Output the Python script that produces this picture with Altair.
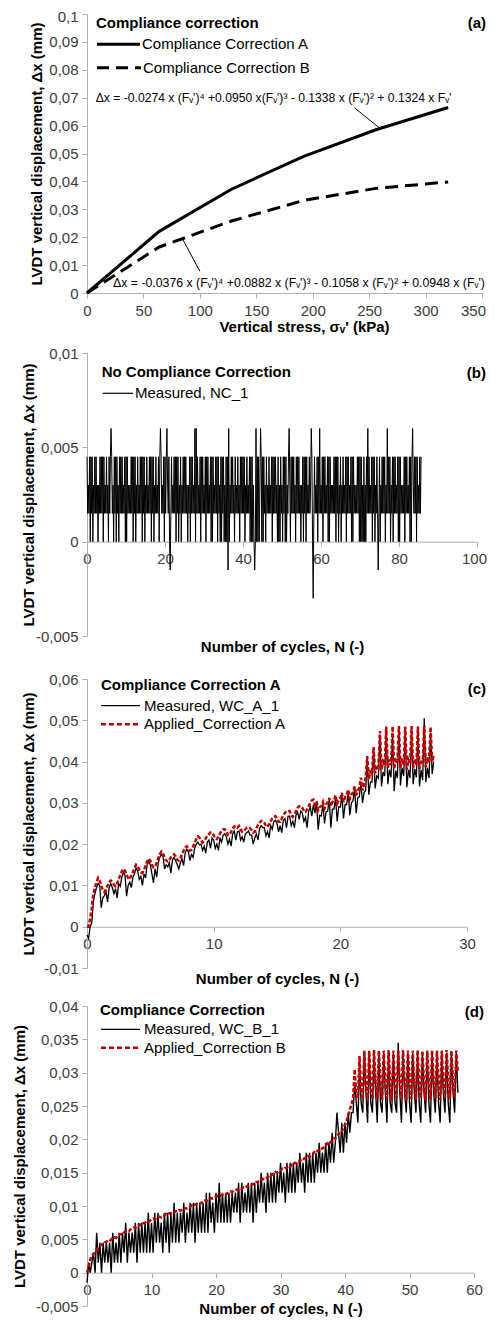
import altair as alt
import pandas as pd

FONT = "Liberation Sans"
AXIS_GREY = "#b0b0b0"
LABEL_GREY = "#3c3c3c"
RED = "#c00000"

Y_TITLE = "LVDT vertical displacement, Δx (mm)"
N_TITLE = "Number of cycles, N (-)"
S_TITLE = "Vertical stress, σᵥ' (kPa)"
LABEL_EXPR = "replace(replace(format(datum.value, '~g'), '.', ','), '\u2212', '-')"

# ---------------- (a) compliance correction curves ----------------
a_stress = [0, 64, 128, 192, 256, 320]
a_corr_A = [0.0, 0.0221, 0.0372, 0.0490, 0.0585, 0.0665]
a_corr_B = [0.0, 0.0165, 0.0258, 0.0332, 0.0375, 0.0398]
a_x_ticks = [0, 50, 100, 150, 200, 250, 300, 350]
a_y_ticks = [0, 0.01, 0.02, 0.03, 0.04, 0.05, 0.06, 0.07, 0.08, 0.09, 0.1]
a_leader_s1 = [237, 85]
a_leader_d1 = [0.0664, 0.0191]
a_leader_s2 = [259, 100]
a_leader_d2 = [0.0592, 0.0078]
eq_A = "Δx = -0.0274 x (Fᵥ')⁴ +0.0950 x(Fᵥ')³ - 0.1338 x (Fᵥ')² + 0.1324 x Fᵥ'"
eq_B = "Δx  = -0.0376 x (Fᵥ')⁴ +0.0882 x (Fᵥ')³ - 0.1058 x (Fᵥ')² + 0.0948 x (Fᵥ')"

# ---------------- (b) no compliance correction ----------------
b_step = 1 / 6          # cycles per sample
b_unit = 0.0015         # LVDT resolution, mm per code
b_codes = [
    3, 1, 2, 1, 3, 0,   3, 1, 3, 0, 2, 1,   3, 1, 3, 1, 2, 0,   2, 1, 3, 1, 3, 1,
    3, 0, 3, 1, 2, 1,   3, 1, 2, 0, 3, 1,   3, 4, 3, 1, 2, 0,   3, 1, 3, 0, 3, 1,
    2, 0, 3, 1, 3, 1,   3, 1, 2, 1, 3, 0,   3, 0, 3, 1, 2, 1,   2, 1, 3, 1, 3, 0,
    3, 1, 3, 0, 2, 1,   3, 1, 2, 1, 3, 1,   3, 0, 3, 1, 3, 0,   2, 1, 3, 1, 2, 1,
    3, 1, 3, 0, 3, 1,   3, 0, 2, 1, 3, 1,   2, 1, 3, 0, 3, 4,   3, 1, 2, 1, 3, 0,
    3, 1, 3, 4, 2, 1,   3, 0, -1, 1, 3, 1,  2, 1, 3, 1, 3, 0,   3, 1, 3, 0, 2, 1,
    3, 0, 2, 1, 3, 1,   3, 1, 3, 1, 2, 0,   2, 1, 3, 0, 3, 1,   3, 1, 2, 1, 4, 0,
    4, 1, 3, 1, 2, 1,   3, 0, 3, 1, 3, 1,   2, 1, 3, 0, 3, 1,   3, 1, 2, 1, 3, 0,
    3, 0, 3, 1, 2, 1,   3, 1, 3, 0, 3, 1,   2, 0, 3, 0, 3, 1,   3, 0, 2, 0, 3, 0,
    3, -1, 4, 0, 2, 1,  3, 1, 3, 1, 2, 0,   3, 1, 2, 1, 3, 1,   2, 0, 3, 1, 3, 1,
    3, 1, 3, 0, 2, 1,   3, 1, 2, 1, 3, 0,   3, 0, 3, 0, 2, 0,   -1, 0, 4, 0, 3, 0,
    3, 0, 2, 4, 3, 0,   3, 0, 3, 1, 2, 0,   3, 1, 2, 1, 3, 1,   2, 1, 3, 0, 3, 1,
    3, 1, 3, 1, 2, 0,   3, 0, 2, 0, 3, 1,   2, 0, 3, 1, 3, 0,   3, 0, 2, 1, 3, 4,
    2, 0, 3, 1, 3, 1,   3, 1, 2, 0, 3, 1,   3, 1, 3, 1, 2, 0,   2, 1, 3, 0, 3, 1,
    3, 0, 3, 1, 2, 1,   3, 1, 2, 4, 3, 0,   -2, 1, 3, 1, 2, 1,  3, 0, 3, 1, 4, 1,
    2, 1, 3, 0, 3, 1,   3, 1, 2, 1, 3, 0,   3, 0, 3, 1, 2, 1,   2, 1, 3, 1, 3, 0,
    3, 1, 3, 0, 2, 1,   3, 0, 2, 1, 3, 1,   2, 1, 3, 0, 3, 1,   3, 1, 2, 1, 3, 0,
    3, 0, 3, 1, 2, 1,   2, 1, 3, 1, 3, 0,   3, 0, 3, 0, 2, 0,   3, 0, 2, 0, 3, 1,
    4, 1, 3, 1, 2, 1,   3, 0, 3, 1, 3, 0,   2, 1, 3, 1, -1, 1,  3, 0, 2, 1, 3, 1,
    3, 1, 3, 0, 2, 1,   4, 1, 3, 1, 3, 0,   2, 1, 3, 0, 3, 1,   3, 1, 2, 1, 3, 0,
    3, 0, 3, 1, 2, 1,   2, 1, 3, 0, 3, 1,   3, 1, 2, 1, 3, 0,   3, 0, 3, 4, 2, 1,
    3, 1, 3, 0, 3, 1,   2, 1, 3, 1, 3,
]
b_x_ticks = [0, 20, 40, 60, 80, 100]
b_y_ticks = [-0.005, 0, 0.005, 0.01]

# ---------------- (c) compliance correction A ----------------
c_step = 0.125
# values in units of 1e-4 mm
c_meas_e4 = [
    -20, -28, 0, 10, 60, 80, 95, 105,
    100, 46, 70, 75, 85, 60, 95, 104,
    95, 80, 92, 70, 105, 98, 120, 132,
    125, 74, 100, 108, 95, 120, 128, 142,
    135, 115, 122, 100, 128, 118, 150, 158,
    150, 128, 106, 140, 120, 155, 168, 175,
    170, 140, 150, 145, 155, 130, 162, 168,
    160, 150, 140, 155, 165, 148, 178, 188,
    182, 160, 175, 168, 190, 200, 205, 198,
    200, 185, 195, 178, 205, 210, 190, 215,
    210, 190, 200, 185, 215, 205, 222, 225,
    218, 200, 212, 195, 225, 232, 210, 230,
    232, 210, 218, 205, 225, 228, 232, 222,
    222, 200, 215, 225, 210, 238, 245, 240,
    240, 220, 230, 215, 245, 236, 255, 258,
    250, 230, 245, 228, 258, 262, 240, 268,
    268, 245, 255, 240, 270, 278, 260, 280,
    276, 255, 265, 240, 280, 290, 268, 296,
    275, 300, 235, 270,  268, 296, 250, 278,  280, 308, 240, 285,
    285, 312, 255, 290,  290, 318, 262, 296,  296, 326, 270, 300,
    305, 335, 275, 312,  315, 350, 300, 325,  330, 405, 320, 350,
    350, 425, 335, 365,  360, 465, 340, 375,  365, 472, 345, 380,
    362, 470, 328, 378,  360, 474, 342, 385,  365, 470, 338, 380,
    360, 472, 345, 382,  362, 470, 340, 380,  355, 505, 350, 385,
    360, 470, 370, 400,
]
c_app_e4 = [
    0, 0, 20, 45, 80, 95, 108, 118,
    112, 100, 88, 84, 92, 100, 108, 112,
    108, 102, 98, 104, 115, 125, 134, 140,
    136, 126, 118, 115, 124, 132, 142, 150,
    146, 138, 132, 130, 138, 148, 158, 165,
    160, 150, 144, 146, 154, 166, 176, 182,
    178, 166, 160, 158, 162, 168, 172, 175,
    170, 162, 160, 166, 176, 184, 192, 195,
    190, 184, 186, 194, 204, 212, 219, 216,
    210, 204, 208, 214, 220, 224, 228, 228,
    222, 214, 212, 218, 226, 232, 236, 236,
    230, 222, 222, 230, 238, 243, 244, 240,
    244, 236, 230, 232, 236, 240, 240, 238,
    234, 228, 230, 238, 246, 252, 256, 256,
    252, 244, 242, 248, 256, 262, 266, 268,
    262, 254, 254, 262, 270, 276, 280, 280,
    280, 270, 266, 272, 280, 288, 292, 292,
    288, 280, 278, 284, 292, 300, 306, 308,
    296, 304, 282, 290,  292, 302, 286, 296,  300, 312, 292, 302,
    306, 318, 298, 308,  312, 324, 302, 314,  318, 332, 310, 320,
    326, 340, 318, 330,  336, 361, 330, 345,  360, 413, 358, 375,
    370, 435, 372, 390,  385, 474, 380, 400,  392, 485, 385, 405,
    392, 485, 382, 402,  395, 486, 385, 408,  392, 485, 380, 405,
    395, 486, 384, 406,  392, 485, 382, 404,  396, 486, 386, 410,
    398, 484, 400, 415,
]
c_x_ticks = [0, 10, 20, 30]
c_y_ticks = [-0.01, 0, 0.01, 0.02, 0.03, 0.04, 0.05, 0.06]

# ---------------- (d) compliance correction B ----------------
d_step = 0.25
d_unit = 0.0015
d_meas_codes = [
    -1, 1, 0, 1,   2, 0, 4, 1,   3, 0, 3, 1,   3, 1, 3, 0,   4, 1, 3, 1,
    4, 1, 4, 2,    5, 1, 4, 2,   4, 2, 5, 1,   5, 2, 5, 2,   5, 2, 6, 2,
    5, 2, 6, 3,    6, 3, 5, 2,   6, 3, 6, 2,   6, 3, 7, 3,   6, 3, 6, 4,
    7, 3, 6, 4,    7, 4, 7, 3,   7, 4, 7, 4,   7, 4, 8, 4,   8, 5, 7, 4,
    8, 5, 9, 5,    8, 5, 8, 5,   8, 5, 8, 6,   8, 6, 9, 5,   9, 6, 8, 6,
    9, 6, 9, 5,    9, 6, 9, 7,   10, 7, 9, 6,  10, 7, 10, 7, 10, 7, 10, 8,
    11, 8, 10, 7,  11, 8, 11, 8, 11, 8, 11, 9, 12, 9, 11, 8, 12, 9, 12, 9,
    12, 9, 12, 10, 13, 10, 12, 10, 13, 10, 13, 11, 14, 11, 13, 16, 14, 12, 15, 12,
    15, 13, 16, 14,
    16,
    16, 19, 17,  15, 21, 17,  16, 22, 18,  15, 22, 17,  16, 22, 18,  15, 22, 17,
    16, 22, 18,  15, 22, 17,  16, 22, 17,  16, 23, 18,  15, 22, 18,  16, 22, 17,
    15, 22, 18,  16, 22, 17,  15, 22, 18,  16, 22, 17,  15, 22, 18,  16, 22, 17,
    15, 22, 18,  16, 22, 17,  15, 22, 18,  16, 22, 18,
]
# values in units of 1e-4 mm
d_app_e4 = [
    0, 8, 20, 25,  28, 30, 33, 37,  40, 42, 43, 45,  46, 48, 47, 50,  52, 53, 52, 55,
    57, 58, 57, 60,  62, 63, 62, 65,  67, 68, 67, 69,  71, 72, 71, 74,  75, 77, 76, 78,
    80, 81, 80, 82,  83, 84, 83, 85,  86, 88, 87, 89,  89, 91, 90, 92,  92, 94, 93, 95,
    96, 97, 96, 98,  99, 101, 100, 102,  103, 104, 103, 105,  106, 108, 107, 109,  110, 112, 111, 113,
    114, 115, 114, 116,  117, 118, 117, 119,  120, 122, 121, 123,  123, 125, 124, 126,  126, 128, 127, 129,
    130, 132, 131, 133,  134, 136, 136, 138,  139, 141, 140, 142,  143, 146, 145, 148,  148, 151, 150, 152,
    153, 156, 155, 157,  157, 160, 159, 162,  162, 165, 164, 167,  167, 170, 169, 172,  172, 175, 174, 177,
    178, 181, 180, 183,  184, 187, 186, 189,  190, 194, 193, 196,  198, 202, 201, 205,  208, 212, 212, 217,
    222, 228, 236, 245,
    252,
    262, 305, 270,  262, 325, 275,  260, 333, 280,  258, 333, 285,  260, 334, 282,  262, 333, 288,
    259, 333, 284,  261, 334, 290,  258, 333, 283,  262, 333, 287,  260, 334, 285,  258, 333, 290,
    261, 333, 284,  259, 334, 288,  262, 333, 283,  258, 333, 289,  260, 334, 285,  261, 333, 290,
    259, 333, 284,  262, 334, 288,  260, 333, 286,  263, 333, 300,
]
d_x_ticks = [0, 10, 20, 30, 40, 50, 60]
d_y_ticks = [-0.005, 0, 0.005, 0.01, 0.015, 0.02, 0.025, 0.03, 0.035, 0.04]

# ---------------- tables ----------------
dfA = pd.DataFrame({"s": a_stress, "dx": a_corr_A})
dfB = pd.DataFrame({"s": a_stress, "dx": a_corr_B})
dfL = pd.DataFrame({"s": a_leader_s1, "dx": a_leader_d1, "s2": a_leader_s2, "dx2": a_leader_d2})
dfb = pd.DataFrame({"N": [i * b_step for i in range(len(b_codes))],
                    "dx": [c * b_unit for c in b_codes]})
dfc = pd.DataFrame({"N": [i * c_step for i in range(len(c_app_e4))],
                    "meas": [v * 1e-4 for v in c_meas_e4],
                    "app": [v * 1e-4 for v in c_app_e4]})
dfd = pd.DataFrame({"N": [i * d_step for i in range(len(d_app_e4))],
                    "meas": [c * d_unit for c in d_meas_codes],
                    "app": [v * 1e-4 for v in d_app_e4]})

COMMON = dict(grid=False, domainColor=AXIS_GREY, tickColor=AXIS_GREY, tickSize=5,
              labelFont=FONT, labelFontSize=15, labelColor=LABEL_GREY, labelExpr=LABEL_EXPR,
              labelFlush=False, labelOverlap=False,
              titleFont=FONT, titleFontSize=15, titleFontWeight="bold", titleColor="black",
              titleBaseline="middle")


def cond_offset(value, shift):
    return {"condition": {"test": f"datum.value == {value}", "value": shift}, "value": 0}


def y_axis(values, title_x, height, top=None, shift=0):
    extra = {}
    if top is not None:
        extra["labelOffset"] = cond_offset(top, shift)
    return alt.Axis(values=values, title=Y_TITLE, labelPadding=4, titleX=title_x,
                    titleY=height / 2, titleAngle=270, **COMMON, **extra)


def x_axis(values, title, offset, title_y, title_x, last=None, shift=0):
    extra = {}
    if last is not None:
        extra["labelOffset"] = cond_offset(last, shift)
    return alt.Axis(values=values, title=title, labelPadding=5, offset=offset,
                    titleY=title_y, titleX=title_x, **COMMON, **extra)


def txt(s, x, y, size=15, bold=False, align="left"):
    return alt.Chart(pd.DataFrame({"t": [s]})).mark_text(
        align=align, baseline="middle", font=FONT, fontSize=size,
        fontWeight="bold" if bold else "normal", color="black"
    ).encode(x=alt.value(x), y=alt.value(y), text="t:N")


def seg(x1, x2, y, color, width, dash=None):
    kw = dict(color=color, strokeWidth=width)
    if dash:
        kw["strokeDash"] = dash
    return alt.Chart(pd.DataFrame({"k": [0]})).mark_rule(**kw).encode(
        x=alt.value(x1), x2=alt.value(x2), y=alt.value(y))


# ---------------- panel (a) ----------------
WA, HA = 395, 279
xa = alt.X("s:Q", scale=alt.Scale(domain=[0, 350], nice=False, zero=False),
           axis=x_axis(a_x_ticks, S_TITLE, 0, 33.5, 217, last=350, shift=-9))
ya = alt.Y("dx:Q", scale=alt.Scale(domain=[0, 0.1], nice=False, zero=False),
           axis=y_axis(a_y_ticks, -51, HA, top=0.1, shift=2))
pa = alt.layer(
    alt.Chart(dfA).mark_line(color="black", strokeWidth=3).encode(x=xa, y=ya),
    alt.Chart(dfB).mark_line(color="black", strokeWidth=3, strokeDash=[13, 7]).encode(x=xa, y=ya),
    alt.Chart(dfL).mark_rule(color="black", strokeWidth=1).encode(x=xa, y=ya, x2="s2:Q", y2="dx2:Q"),
    txt("Compliance correction", 9, 8.5, bold=True),
    seg(10, 53, 30.3, "black", 3),
    txt("Compliance Correction A", 55, 30.3),
    seg(10, 54, 53.7, "black", 3, [12, 7]),
    txt("Compliance Correction B", 56, 53.7),
    txt("(a)", 399, 8.5, bold=True, align="right"),
    txt(eq_A, 8.7, 83.7, size=12.15),
    txt(eq_B, 26, 268.7, size=12.3),
).properties(width=WA, height=HA)

# ---------------- panel (b) ----------------
WB, HB = 390, 283
xb = alt.X("N:Q", scale=alt.Scale(domain=[0, 100], nice=False, zero=False),
           axis=x_axis(b_x_ticks, N_TITLE, -HB / 3, 105, WB / 2, last=100, shift=-3))
yb = alt.Y("dx:Q", scale=alt.Scale(domain=[-0.005, 0.01], nice=False, zero=False),
           axis=y_axis(b_y_ticks, -59, HB))
pb = alt.layer(
    alt.Chart(dfb).mark_line(color="black", strokeWidth=1).encode(x=xb, y=yb),
    txt("No Compliance Correction", 14.7, 18.5, bold=True),
    seg(15.7, 46, 40.3, "black", 1.2),
    txt("Measured, NC_1", 48, 40.3),
    txt("(b)", 399, 19.5, bold=True, align="right"),
).properties(width=WB, height=HB)

# ---------------- panel (c) ----------------
WC, HC = 380, 289
xc = alt.X("N:Q", scale=alt.Scale(domain=[0, 30], nice=False, zero=False),
           axis=x_axis(c_x_ticks, N_TITLE, -HC / 7, 51.7, WC / 2))


def yc(field):
    return alt.Y(field + ":Q", scale=alt.Scale(domain=[-0.01, 0.06], nice=False, zero=False),
                 axis=y_axis(c_y_ticks, -59, HC))


pc = alt.layer(
    alt.Chart(dfc).mark_line(color="black", strokeWidth=1.3).encode(x=xc, y=yc("meas")),
    alt.Chart(dfc).mark_line(color=RED, strokeWidth=2.5, strokeDash=[4, 2]).encode(x=xc, y=yc("app")),
    txt("Compliance Correction A", 14, 6, bold=True),
    seg(14, 53, 26.7, "black", 1.3),
    txt("Measured, WC_A_1", 57, 26.7),
    seg(14, 53, 45.3, RED, 2.5, [5, 3]),
    txt("Applied_Correction A", 57, 45.3),
    txt("(c)", 399, 10.3, bold=True, align="right"),
).properties(width=WC, height=HC)

# ---------------- panel (d) ----------------
WD, HD = 387, 300
xd = alt.X("N:Q", scale=alt.Scale(domain=[0, 60], nice=False, zero=False),
           axis=x_axis(d_x_ticks, N_TITLE, -HD / 9, 36, WD / 2))


def yd(field):
    return alt.Y(field + ":Q", scale=alt.Scale(domain=[-0.005, 0.04], nice=False, zero=False),
                 axis=y_axis(d_y_ticks, -68, HD))


pdd = alt.layer(
    alt.Chart(dfd).mark_line(color="black", strokeWidth=1.4).encode(x=xd, y=yd("meas")),
    alt.Chart(dfd).mark_line(color=RED, strokeWidth=2.5, strokeDash=[4, 2]).encode(x=xd, y=yd("app")),
    txt("Compliance Correction", 13, 4, bold=True),
    seg(14, 53, 23.3, "black", 1.3),
    txt("Measured, WC_B_1", 57, 23.3),
    seg(14, 53, 41.7, RED, 2.5, [5, 3]),
    txt("Applied_Correction B", 57, 41.7),
    txt("(d)", 397, 6, bold=True, align="right"),
).properties(width=WD, height=HD)

chart = alt.vconcat(
    pa,
    alt.vconcat(
        pb,
        alt.vconcat(pc, pdd, spacing=38, bounds="flush"),
        spacing=43, bounds="flush"),
    spacing=60, bounds="flush",
).configure_view(stroke="transparent").properties(
    autosize=alt.AutoSizeParams(type="none"),
    padding={"left": 79, "top": 6, "right": 400, "bottom": 1304})

chart.save("out.html", embed_options={"renderer": "svg", "actions": False})
